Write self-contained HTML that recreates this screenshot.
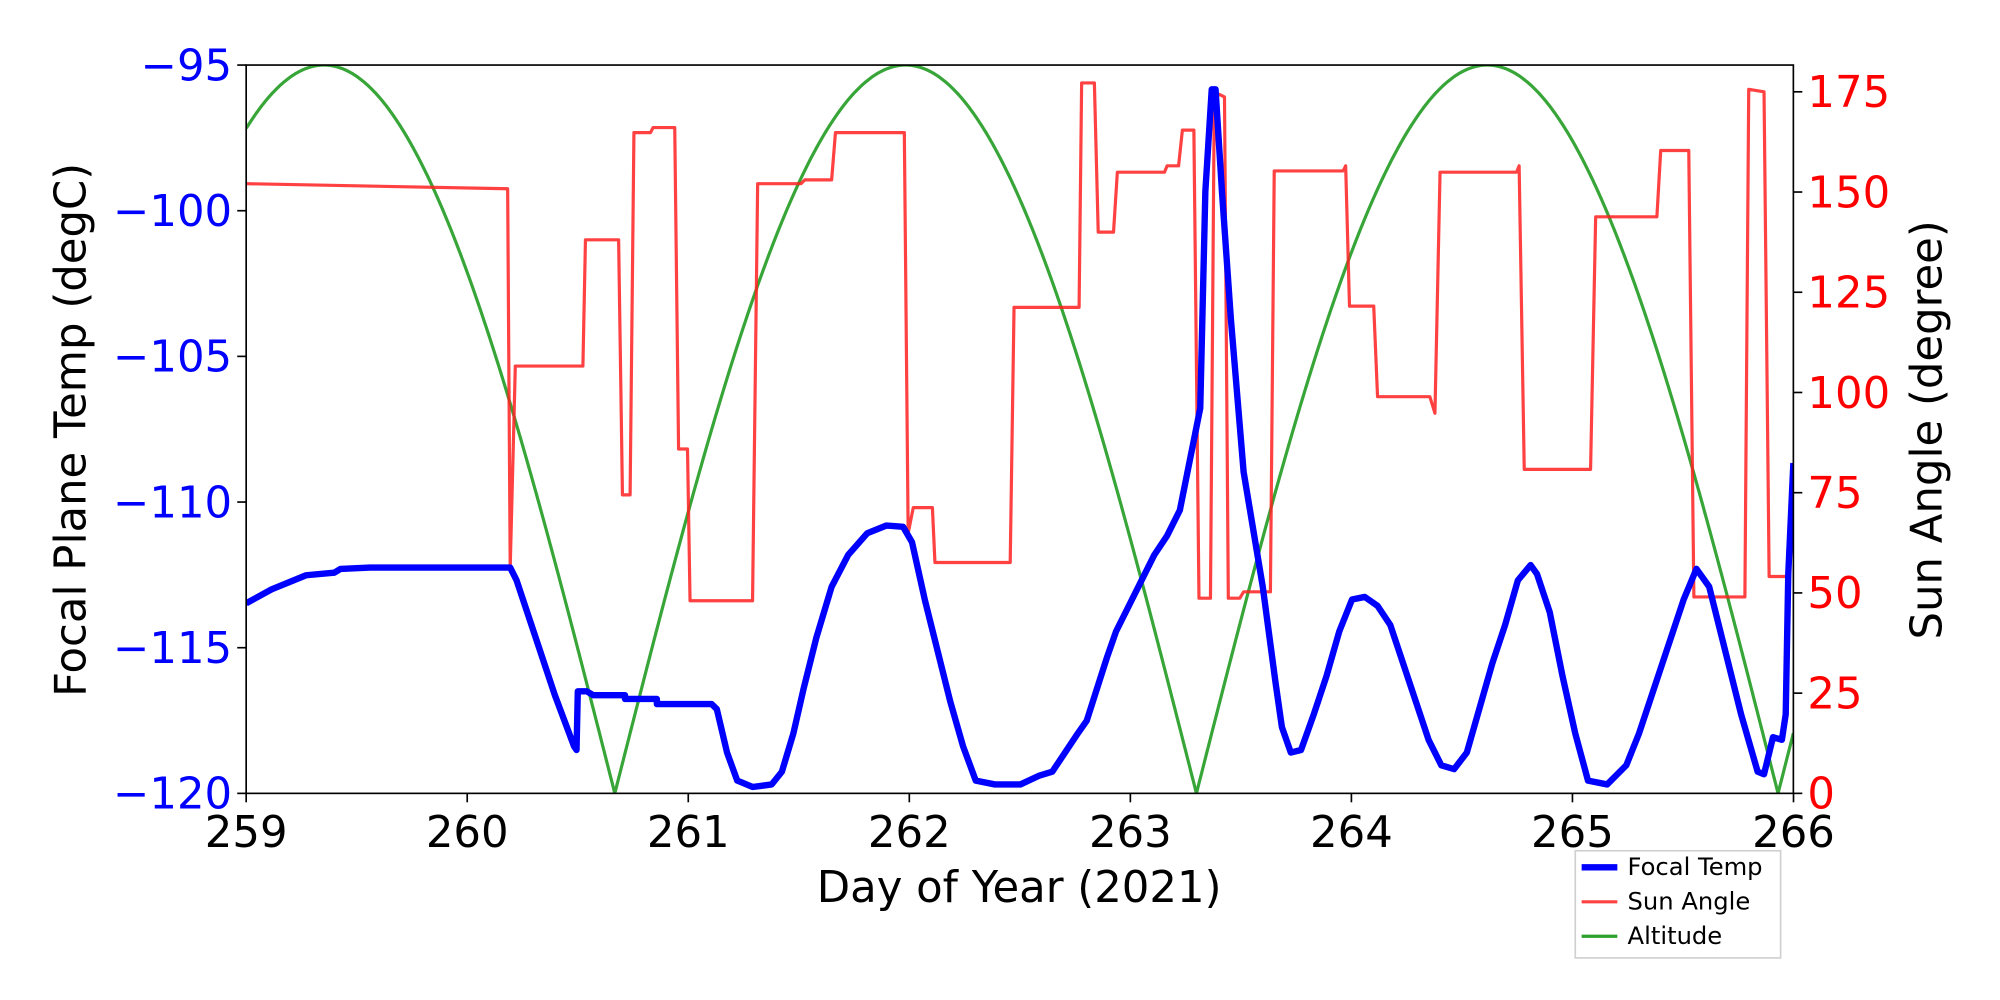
<!DOCTYPE html>
<html><head><meta charset="utf-8"><style>
html,body{margin:0;padding:0;background:#fff;}
svg{display:block;}
text{font-family:"DejaVu Sans","Liberation Sans",sans-serif;}
</style></head><body>
<svg width="2000" height="1000" viewBox="0 0 1568 784" xmlns="http://www.w3.org/2000/svg">
<rect width="1568" height="784" fill="#fff"/>
<defs><clipPath id="c"><rect x="193" y="51" width="1213" height="571"/></clipPath></defs>
<g clip-path="url(#c)" fill="none" stroke-linejoin="round">
<path id="alt" stroke="#2ca02c" stroke-width="2.5" opacity="0.95" d=""/>
<path stroke="#ff2020" stroke-opacity="0.85" stroke-width="2.5" d="M193,144 L398,148 L400,445 L404,287 L457,287 L459,188 L485,188 L488,388 L494,388 L497,104 L510,104 L512,100 L529,100 L532,352 L539,352 L541,471 L590,471 L594,144 L628,144 L631,141 L652,141 L655,104 L709,104 L712,418 L716,398 L731,398 L733,441 L792,441 L795,241 L846,241 L848,65 L858,65 L861,182 L873,182 L876,135 L913,135 L915,130 L924,130 L927,102 L936,102 L940,469 L949,469 L952,76 L956,74 L960,76 L963,469 L972,469 L975,464 L996,464 L999,134 L1053,134 L1055,130 L1058,240 L1077,240 L1080,311 L1121,311 L1125,324 L1129,135 L1189,135 L1191,130 L1195,368 L1247,368 L1251,170 L1299,170 L1302,118 L1324,118 L1328,468 L1368,468 L1371,70 L1383,72 L1387,452 L1403,452 L1406,370"/>
<path stroke="#0000ff" stroke-width="5" d="M193,473 L213,462 L240,451 L262,449 L267,446 L290,445 L400,445 L405,455 L420,500 L435,545 L450,585 L452,588 L453,542 L460,542 L465,545 L490,545 L490,548 L515,548 L515,552 L558,552 L562,556 L570,590 L578,612 L590,617 L605,615 L613,605 L622,575 L630,540 L640,500 L652,460 L665,435 L680,418 L695,412 L708,413 L715,425 L725,470 L735,510 L745,550 L755,585 L765,612 L780,615 L800,615 L815,608 L825,605 L835,590 L845,575 L852,565 L860,540 L868,515 L875,495 L885,475 L895,455 L905,435 L915,420 L925,400 L933,360 L937,340 L941,320 L945,150 L950,70 L953,70 L958,150 L965,250 L975,370 L990,460 L1000,535 L1005,570 L1012,590 L1020,588 L1030,560 L1040,530 L1050,495 L1060,470 L1070,468 L1080,475 L1090,490 L1100,520 L1110,550 L1120,580 L1130,600 L1140,603 L1150,590 L1160,555 L1170,520 L1180,490 L1190,455 L1200,443 L1205,450 L1215,480 L1225,530 L1235,575 L1245,612 L1260,615 L1275,600 L1285,575 L1300,530 L1310,500 L1320,470 L1330,446 L1340,460 L1350,500 L1365,560 L1378,605 L1383,607 L1390,578 L1397,580 L1400,560 L1402,450 L1406,363"/>
</g>
<rect x="193" y="51" width="1213" height="571" fill="none" stroke="#000" stroke-width="1.3"/>
<g stroke="#000" stroke-width="1.3" id="ticks"></g>
<g font-size="34" fill="#0000ff" text-anchor="end" id="lt"></g>
<g font-size="34" fill="#ff0000" text-anchor="start" id="rt"></g>
<g font-size="34" fill="#000" text-anchor="middle" id="bt"></g>
<text x="799" y="707" font-size="34" text-anchor="middle">Day of Year (2021)</text>
<text transform="translate(67,337) rotate(-90)" font-size="34" text-anchor="middle">Focal Plane Temp (degC)</text>
<text transform="translate(1522,337) rotate(-90)" font-size="34" text-anchor="middle">Sun Angle (degree)</text>
<rect x="1235" y="667" width="161" height="84" fill="#fff" stroke="#d0d0d0" stroke-width="1.3"/>
<line x1="1240" y1="680" x2="1268" y2="680" stroke="#0000ff" stroke-width="5"/>
<line x1="1240" y1="707" x2="1268" y2="707" stroke="#ff2020" stroke-opacity="0.85" stroke-width="2.5"/>
<line x1="1240" y1="734" x2="1268" y2="734" stroke="#2ca02c" stroke-width="2.5"/>
<text x="1276" y="686" font-size="19">Focal Temp</text>
<text x="1276" y="713" font-size="19">Sun Angle</text>
<text x="1276" y="740" font-size="19">Altitude</text>
</svg>
<script>
var ns="http://www.w3.org/2000/svg";
var d="";for(var x=193;x<=1406;x+=1){var y=622-571*Math.abs(Math.sin(Math.PI*(x-26)/456));d+=(x==193?"M":"L")+x+","+y.toFixed(1)+" ";}
document.getElementById("alt").setAttribute("d",d);
function el(p,t,a,txt){var e=document.createElementNS(ns,t);for(var k in a)e.setAttribute(k,a[k]);if(txt)e.textContent=txt;document.getElementById(p).appendChild(e);}
for(var i=0;i<=5;i++){var v=-95-5*i,y=51+i*114.2;el("ticks","line",{x1:186,x2:193,y1:y,y2:y});el("lt","text",{x:182,y:y+12},"\u2212"+(-v));}
for(var i=0;i<=7;i++){var v=25*i,y=622-v*3.143;el("ticks","line",{x1:1406,x2:1413,y1:y,y2:y});el("rt","text",{x:1417,y:y+12},""+v);}
for(var i=0;i<=7;i++){var x=193+i*173.3;el("ticks","line",{x1:x,x2:x,y1:622,y2:629});el("bt","text",{x:x,y:664},""+(259+i));}
</script>
</body></html>
